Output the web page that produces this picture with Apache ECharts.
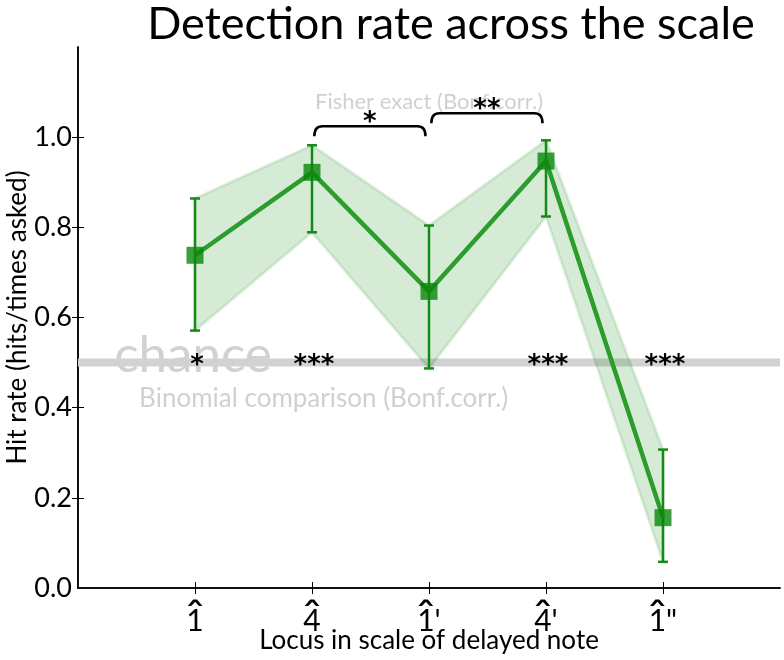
<!DOCTYPE html>
<html>
<head>
<meta charset="utf-8">
<script src="https://cdn.jsdelivr.net/npm/echarts@6/dist/echarts.min.js"></script>
<style>html,body{margin:0;padding:0;background:#fff}#c{width:784px;height:660px}</style>
</head>
<body>
<div id="c"></div>
<script>
// ---- data ----
const categoryDigits = ['1', '4', '1', '4', '1'];
const categorySuffix = ['', '', "'", "'", '"'];
const xPositions = [1, 2, 3, 4, 5];
const hitRate = [0.738, 0.922, 0.658, 0.947, 0.156];
const ciLow = [0.571, 0.789, 0.487, 0.824, 0.058];
const ciHigh = [0.864, 0.982, 0.804, 0.993, 0.307];
const binomialStars = ['*', '***', '', '***', '***'];
const chanceLevel = 0.5;
const yTicks = [0, 0.2, 0.4, 0.6, 0.8, 1.0];
// Fisher comparisons: [fromIndex, toIndex, stars]
const fisherPairs = [[1, 2, '*'], [2, 3, '**']];

const FONT = 'Lato, "Noto Sans", sans-serif';
const chart = echarts.init(document.getElementById('c'), null, {renderer: 'canvas'});

const pts = xPositions.map((x, i) => [x, hitRate[i]]);
const errData = xPositions.map((x, i) => [x, ciLow[i], ciHigh[i]]);
const starData = xPositions.map((x, i) => [x, chanceLevel, binomialStars[i]]);

// bracket geometry (data units)
const bracketData = fisherPairs.map((p, k) => {
  const a = xPositions[p[0]], b = xPositions[p[1]];
  const base = k === 0 ? 1.002 : 1.031;
  return [a + 0.02, b - 0.03, base, base + 0.022, p[2]];
});

// scale-degree label: caret above digit, suffix (primes) beside it
function degreeLabel(v) {
  const i = xPositions.indexOf(v);
  if (i < 0) return '';
  const suf = categorySuffix[i];
  const line1 = '{h|\u02C6}' + (suf ? '{ph|' + suf + '}' : '');
  const line2 = '{d|' + categoryDigits[i] + '}' + (suf ? '{p|' + suf + '}' : '');
  return line1 + '\n' + line2;
}

const option = {
  animation: false,
  title: {
    text: 'Detection rate across the scale',
    left: 446, top: -3, textAlign: 'center',
    textStyle: {fontFamily: FONT, fontSize: 45, fontWeight: 'normal', color: '#000'}
  },
  grid: {left: 78, right: 4, top: 47, bottom: 72, outerBoundsMode: 'none', containLabel: false},
  xAxis: [{
    type: 'value', min: 0, max: 6, interval: 1,
    name: 'Locus in scale of delayed note', nameLocation: 'middle', nameGap: 40,
    nameMoveOverlap: false,
    nameTextStyle: {fontFamily: FONT, fontSize: 26, color: '#000'},
    axisLine: {lineStyle: {color: '#000', width: 1.5}},
    axisTick: {inside: true, length: 6, lineStyle: {color: '#000'}, customValues: xPositions},
    axisLabel: {color: '#000', margin: 30,
      customValues: xPositions,
      formatter: degreeLabel,
      rich: {
        h: {fontFamily: FONT, fontSize: 48, width: 17, align: 'center', lineHeight: 2},
        ph: {fontFamily: FONT, fontSize: 30, color: 'rgba(0,0,0,0)', lineHeight: 2},
        d: {fontFamily: FONT, fontSize: 30, width: 17, align: 'center', lineHeight: 2},
        p: {fontFamily: FONT, fontSize: 30, lineHeight: 2}
      }},
    splitLine: {show: false}
  }, {
    type: 'value', position: 'top', min: 0, max: 6, interval: 1,
    axisLine: {lineStyle: {color: '#000', width: 1.5}},
    axisTick: {inside: true, length: 6, lineStyle: {color: '#000'}, customValues: xPositions},
    axisLabel: {show: false}, splitLine: {show: false}
  }],
  yAxis: [{
    type: 'value', min: 0, max: 1.2, interval: 0.2,
    name: 'Hit rate (hits/times asked)', nameLocation: 'middle', nameGap: 47,
    nameMoveOverlap: false,
    nameTextStyle: {fontFamily: FONT, fontSize: 26, color: '#000'},
    axisLine: {show: true, lineStyle: {color: '#000', width: 1.5}},
    axisTick: {inside: true, length: 6, lineStyle: {color: '#000'}, customValues: yTicks.slice(1)},
    axisLabel: {fontFamily: FONT, fontSize: 27, color: '#000', margin: 6,
      customValues: yTicks,
      formatter: v => v.toFixed(1)},
    splitLine: {show: false}
  }, {
    type: 'value', position: 'right', min: 0, max: 1.2, interval: 0.2,
    axisLine: {show: true, lineStyle: {color: '#000', width: 1.5}},
    axisTick: {inside: true, length: 6, lineStyle: {color: '#000'}, customValues: yTicks.slice(1)},
    axisLabel: {show: false}, splitLine: {show: false}
  }],
  series: [
    { // chance line
      type: 'line', z: 1, silent: true, symbol: 'none',
      data: [[0, chanceLevel], [6, chanceLevel]],
      lineStyle: {color: '#d2d2d2', width: 8}
    },
    { // CI band
      type: 'custom', z: 2, silent: true,
      data: [[0]],
      renderItem: (params, api) => {
        const up = xPositions.map((x, i) => api.coord([x, ciHigh[i]]));
        const lo = xPositions.map((x, i) => api.coord([x, ciLow[i]])).reverse();
        return {type: 'polygon', shape: {points: up.concat(lo)},
          style: {fill: 'rgba(0,128,0,0.16)', stroke: 'rgba(0,128,0,0.12)', lineWidth: 3, lineJoin: 'round'}};
      }
    },
    { // error bars
      type: 'custom', z: 3, silent: true,
      data: errData,
      renderItem: (params, api) => {
        const x = api.value(0);
        const lo = api.coord([x, api.value(1)]);
        const hi = api.coord([x, api.value(2)]);
        const st = {stroke: '#168a16', lineWidth: 2.5};
        const cw = 5;
        return {type: 'group', children: [
          {type: 'line', shape: {x1: lo[0], y1: lo[1], x2: hi[0], y2: hi[1]}, style: st},
          {type: 'line', shape: {x1: lo[0] - cw, y1: lo[1], x2: lo[0] + cw, y2: lo[1]}, style: st},
          {type: 'line', shape: {x1: hi[0] - cw, y1: hi[1], x2: hi[0] + cw, y2: hi[1]}, style: st}
        ]};
      }
    },
    { // hit rate line
      type: 'line', z: 4, data: pts,
      symbol: 'rect', symbolSize: 17,
      lineStyle: {color: '#2c9c2c', width: 4.5},
      itemStyle: {color: 'rgba(10,135,10,0.8)', borderWidth: 0}
    },
    { // binomial stars
      type: 'custom', z: 5, silent: true,
      data: starData,
      renderItem: (params, api) => {
        const p = api.coord([api.value(0), api.value(1)]);
        return {type: 'text', x: p[0] + 2, y: p[1] + 4,
          style: {text: starData[params.dataIndex][2], font: 'bold 26px "DejaVu Sans"', fill: '#000', align: 'center', verticalAlign: 'middle'}};
      }
    },
    { // brackets
      type: 'custom', z: 5, silent: true,
      data: bracketData,
      renderItem: (params, api) => {
        const a = api.coord([api.value(0), api.value(2)]);
        const b = api.coord([api.value(1), api.value(2)]);
        const top = api.coord([api.value(0), api.value(3)])[1];
        const r = 8;
        const path = `M${a[0]},${a[1]} Q${a[0]},${top} ${a[0] + r},${top} L${b[0] - r},${top} Q${b[0]},${top} ${b[0]},${b[1]}`;
        const mid = api.coord([(api.value(0) + api.value(1)) / 2, api.value(3)]);
        return {type: 'group', children: [
          {type: 'path', shape: {pathData: path}, style: {stroke: '#000', fill: null, lineWidth: 2.5}},
          {type: 'text', x: mid[0], y: mid[1] + 10, style: {text: bracketData[params.dataIndex][4], font: 'bold 26px "DejaVu Sans"', fill: '#000', align: 'center', verticalAlign: 'bottom'}}
        ]};
      }
    },
    { // text annotations
      type: 'scatter', z: 0, silent: true, symbolSize: 1,
      itemStyle: {color: 'transparent'},
      data: [
        {value: [0.31, 0.515], label: {formatter: 'chance', align: 'left', fontSize: 51, color: 'rgba(140,140,140,0.5)'}},
        {value: [2.1, 0.42], label: {formatter: 'Binomial comparison (Bonf.corr.)', fontSize: 26, color: '#c4c4c4'}},
        {value: [3.0, 1.078], label: {formatter: 'Fisher exact (Bonf.corr.)', fontSize: 22, color: '#c4c4c4'}}
      ],
      label: {show: true, position: 'inside', fontFamily: FONT, verticalAlign: 'middle', textBorderWidth: 0}
    }
  ]
};
chart.setOption(option);
</script>
</body>
</html>
